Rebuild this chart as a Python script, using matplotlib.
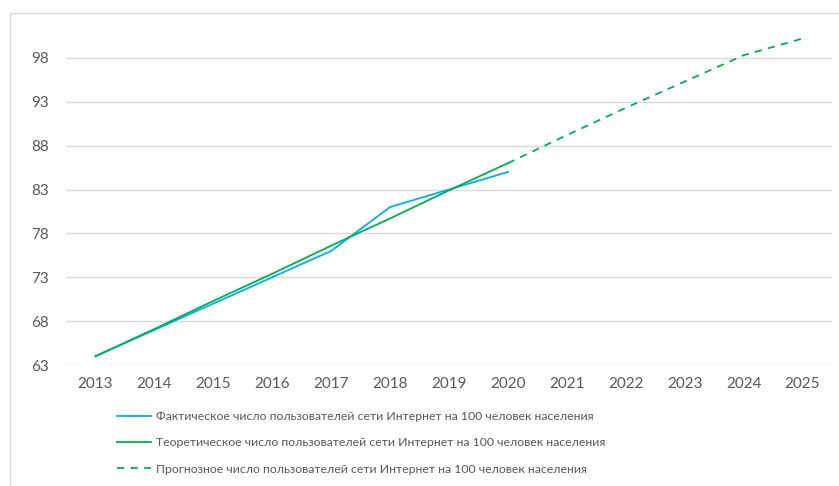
import matplotlib.pyplot as plt
from matplotlib.patches import Rectangle

plt.rcParams['font.family'] = ['Lato', 'DejaVu Sans']

# Годы и значения показателей
years = ['2013', '2014', '2015', '2016', '2017', '2018', '2019',
         '2020', '2021', '2022', '2023', '2024', '2025']
actual = [64.0, 67.0, 70.0, 73.0, 76.0, 81.0, 83.0, 85.0]
theory = [64.0, 67.1, 70.3, 73.4, 76.6, 79.7, 82.9, 86.0]
forecast = [86.0, 89.2, 92.3, 95.3, 98.3, 100.2]
y_ticks = [63, 68, 73, 78, 83, 88, 93, 98]

labels = [
    'Фактическое число пользователей сети Интернет на 100 человек населения',
    'Теоретическое число пользователей сети Интернет на 100 человек населения',
    'Прогнозное число пользователей сети Интернет на 100 человек населения',
]

blue = '#00B0F0'
green = '#00B050'
grid = '#d9d9d9'
text = '#595959'

fig = plt.figure(figsize=(8.39, 4.86), dpi=100)
ax = fig.add_axes([66 / 839, 1 - 365 / 486, (832 - 66) / 839, (365 - 14) / 486])

x = list(range(len(years)))
ax.plot(x[:len(actual)], actual, color=blue, lw=1.3, label=labels[0])
ax.plot(x[:len(theory)], theory, color=green, lw=1.3, label=labels[1])
ax.plot(x[len(theory) - 1:], forecast, color=green, lw=1.3,
        ls=(0, (4, 3.5)), label=labels[2])

ax.set_xlim(-0.5, len(years) - 0.5)
ax.set_ylim(63, 103)
ax.set_xticks(x)
ax.set_xticklabels(years)
ax.set_yticks(y_ticks)
ax.grid(axis='y', color=grid, lw=1)
ax.set_axisbelow(True)
for s in ax.spines.values():
    s.set_visible(False)
ax.tick_params(length=0, colors=text, labelsize=11)
ax.tick_params(axis='x', pad=9)
ax.tick_params(axis='y', pad=12)

# рамка области диаграммы
fig.add_artist(Rectangle((10 / 839, -0.1), 1.2, 1 - 13 / 486 + 0.1,
                         transform=fig.transFigure, fill=False,
                         edgecolor=grid, lw=1))

fig.legend(loc='upper left', bbox_to_anchor=(106 / 839, 1 - 400 / 486),
           frameon=False, fontsize=8.8, labelcolor=text,
           handlelength=2.8, handletextpad=0.35, labelspacing=1.25)

fig.savefig('out.png', dpi=100)
